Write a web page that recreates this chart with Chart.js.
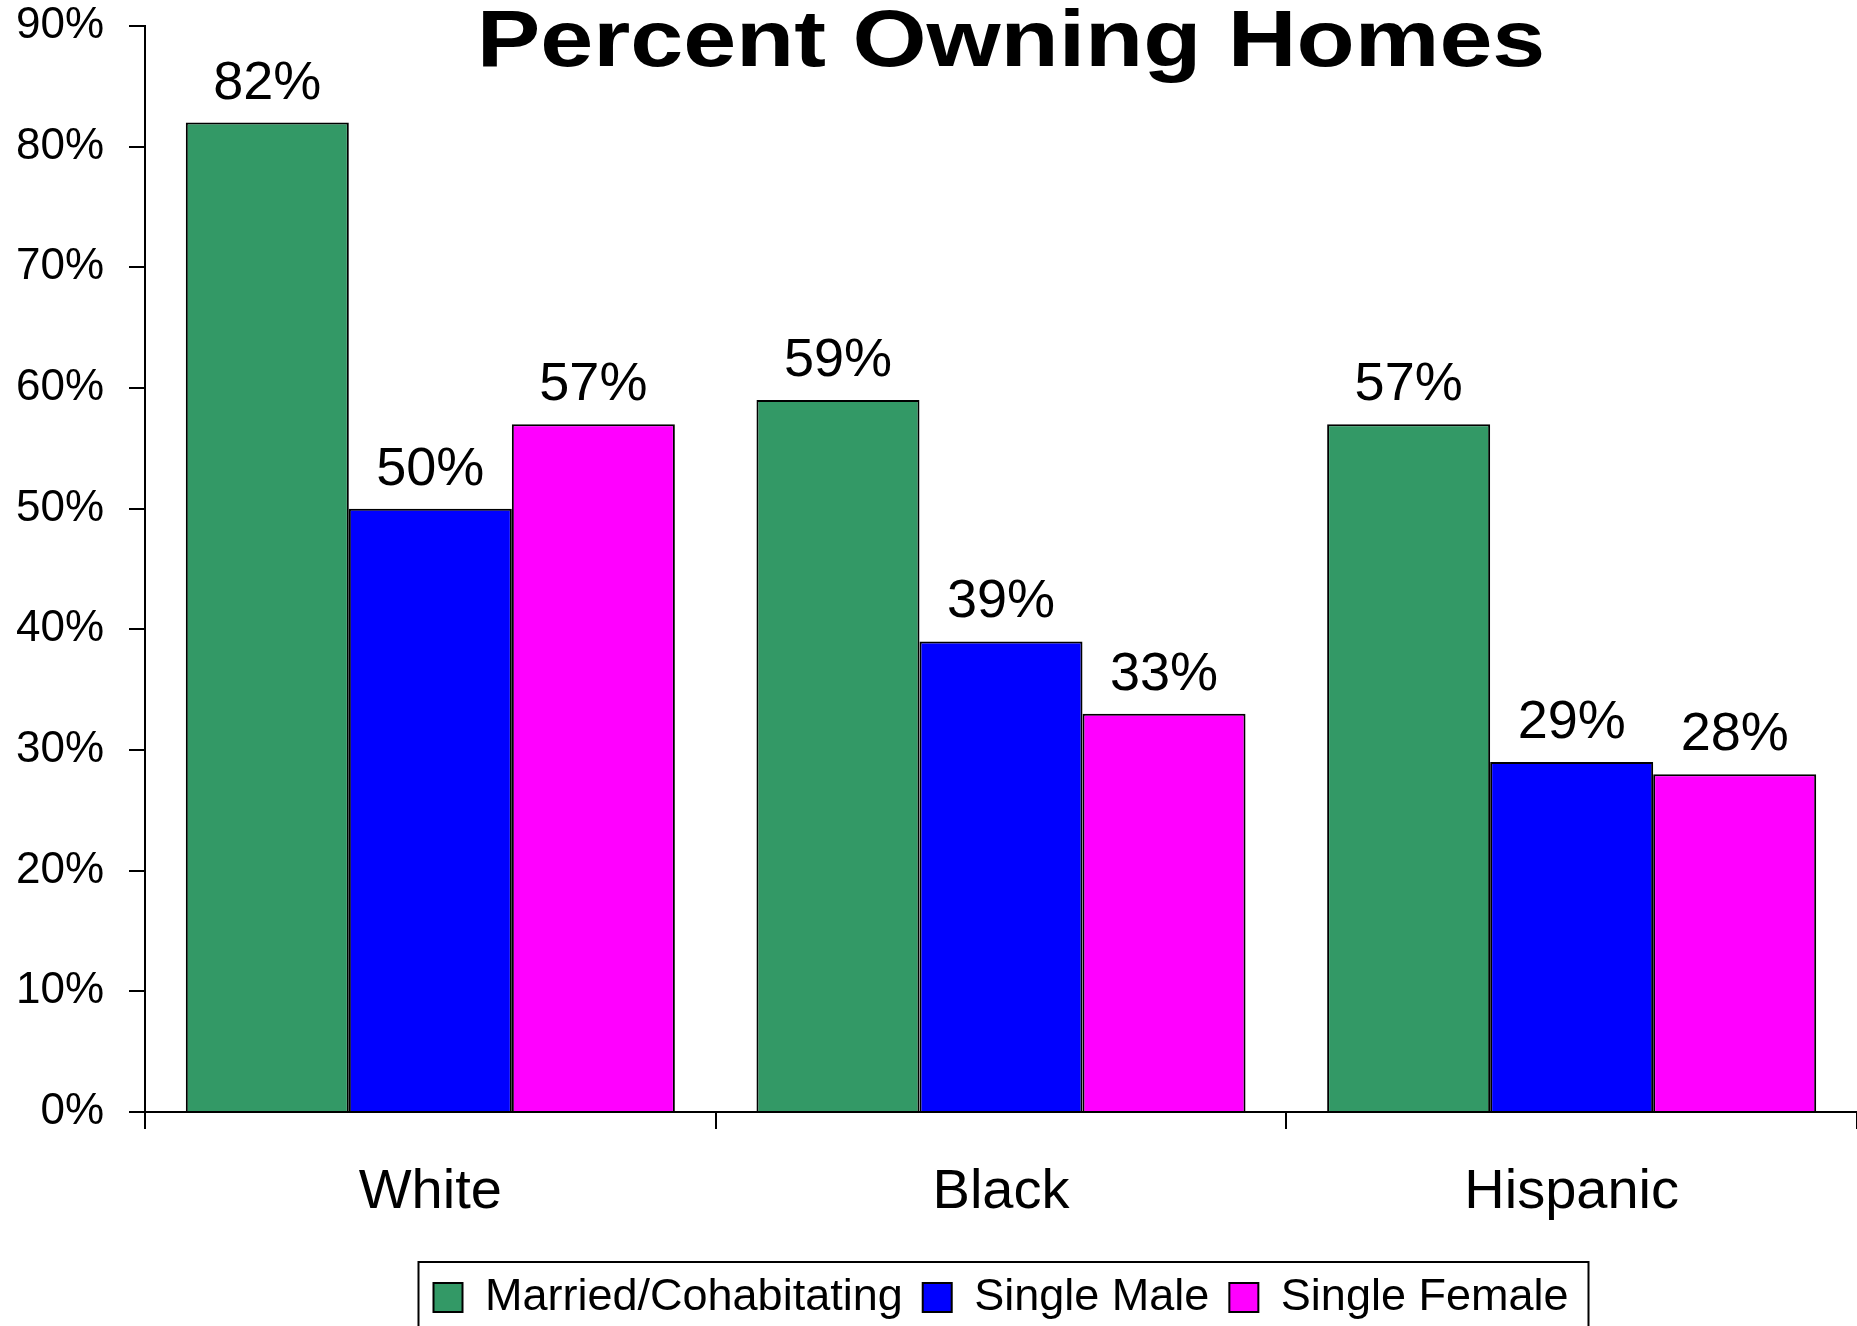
<!DOCTYPE html>
<html>
<head>
<meta charset="utf-8">
<script src="https://cdn.jsdelivr.net/npm/chart.js@4.4.1/dist/chart.umd.min.js"></script>
<style>
  html, body { margin: 0; padding: 0; background: #fff; }
  #wrap { width: 1857px; height: 1326px; position: relative; }
</style>
</head>
<body>
<div id="wrap"><canvas id="homes-chart"></canvas></div>
<script>
const categories = ['White', 'Black', 'Hispanic'];
const married = [82, 59, 57];
const singleMale = [50, 39, 29];
const singleFemale = [57, 33, 28];
const seriesNames = ['Married/Cohabitating', 'Single Male', 'Single Female'];
const yTicks = [0, 10, 20, 30, 40, 50, 60, 70, 80, 90];
const chartTitle = 'Percent Owning Homes';

Chart.defaults.font.family = '"Liberation Sans", Arial, sans-serif';
Chart.defaults.color = '#000';

// value labels above each bar
const barLabels = {
    id: 'barLabels',
    afterDatasetsDraw(chart) {
        const ctx = chart.ctx;
        ctx.save();
        ctx.font = '54px "Liberation Sans", Arial, sans-serif';
        ctx.fillStyle = '#000';
        ctx.textAlign = 'center';
        ctx.textBaseline = 'alphabetic';
        chart.data.datasets.forEach((ds, i) => {
            chart.getDatasetMeta(i).data.forEach((bar, j) => {
                ctx.fillText(ds.data[j] + '%', bar.x, bar.y - 24);
            });
        });
        ctx.restore();
    }
};

// title sits over the plot, a bit stretched like the original
const wideTitle = {
    id: 'wideTitle',
    afterDraw(chart) {
        const ctx = chart.ctx;
        const a = chart.chartArea;
        ctx.save();
        ctx.translate((a.left + a.right) / 2 + 10, 66);
        ctx.scale(1.19, 1);
        ctx.font = 'bold 80px "Liberation Sans", Arial, sans-serif';
        ctx.fillStyle = '#000';
        ctx.textAlign = 'center';
        ctx.textBaseline = 'alphabetic';
        ctx.fillText(chartTitle, 0, 0);
        ctx.restore();
    }
};

// frame round the legend
const legendFrame = {
    id: 'legendFrame',
    afterDraw(chart) {
        const boxes = chart.legend.legendHitBoxes;
        if (!boxes || !boxes.length) return;
        const first = boxes[0], last = boxes[boxes.length - 1];
        const left = first.left - 15;
        const right = last.left + last.width + 20;
        const top = first.top - 13;
        const ctx = chart.ctx;
        ctx.save();
        ctx.strokeStyle = '#000';
        ctx.lineWidth = 2;
        ctx.strokeRect(left, top, right - left, chart.height + 20 - top);
        ctx.restore();
    }
};

const colors = ['#339966', '#0000FF', '#FF00FF'];
const series = [married, singleMale, singleFemale];

new Chart(document.getElementById('homes-chart'), {
    type: 'bar',
    data: {
        labels: categories,
        datasets: series.map((data, i) => ({
            label: seriesNames[i],
            data,
            backgroundColor: colors[i],
            borderColor: '#000',
            borderWidth: 2,
            categoryPercentage: 0.857,
            barPercentage: 1.0
        }))
    },
    options: {
        responsive: true,
        maintainAspectRatio: false,
        animation: false,
        layout: { padding: { top: 26, left: 0, right: 0, bottom: 0 } },
        plugins: {
            title: { display: false },
            tooltip: { enabled: false },
            legend: {
                position: 'bottom',
                fullSize: false,
                maxHeight: 71,
                labels: {
                    boxWidth: 29,
                    boxHeight: 29,
                    padding: 20,
                    color: '#000',
                    font: { size: 45 }
                }
            }
        },
        scales: {
            x: {
                grid: {
                    offset: true,
                    drawOnChartArea: false,
                    drawTicks: true,
                    tickLength: 17,
                    color: '#000',
                    lineWidth: 2
                },
                border: { display: true, color: '#000', width: 2 },
                ticks: { font: { size: 56 }, color: '#000', padding: 30 },
                afterFit(scale) { scale.height = 143; }
            },
            y: {
                min: 0,
                max: 90,
                afterBuildTicks(scale) { scale.ticks = yTicks.map(v => ({ value: v })); },
                grid: {
                    drawOnChartArea: false,
                    drawTicks: true,
                    tickLength: 16,
                    color: '#000',
                    lineWidth: 2
                },
                border: { display: true, color: '#000', width: 2 },
                ticks: {
                    font: { size: 44 },
                    color: '#000',
                    padding: 25,
                    callback: v => v + '%'
                },
                afterFit(scale) {
                    scale.width = 145;
                    scale.paddingTop = 0;
                    scale.paddingBottom = 0;
                }
            }
        }
    },
    plugins: [barLabels, wideTitle, legendFrame]
});
</script>
</body>
</html>
